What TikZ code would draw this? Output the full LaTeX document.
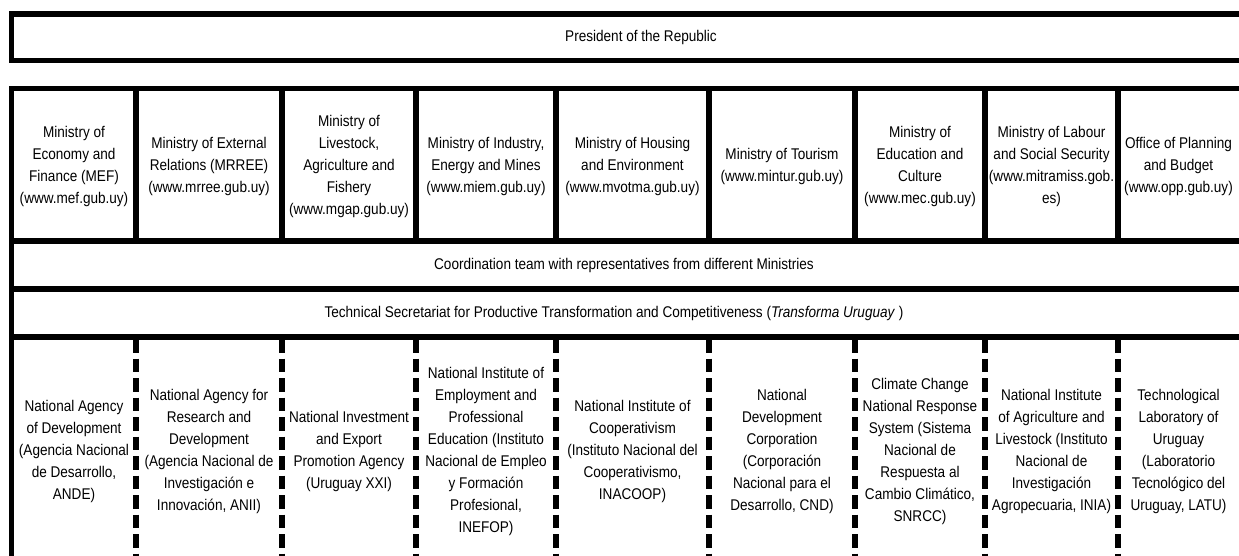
\documentclass[tikz,border=0pt]{standalone}
\usepackage{fontspec}
\setmainfont{Liberation Sans}[FakeStretch=0.875]
\begin{document}
\begin{tikzpicture}[x=1pt,y=-1pt,
  rule/.style={line width=5.2pt},
  dashrule/.style={line width=5.2pt, dash pattern=on 13.5pt off 6pt},
  lbl/.style={align=center, font=\fontsize{15.5}{22}\selectfont, inner sep=0pt},
]
\useasboundingbox (0,0) rectangle (1239,556);
\clip (0,0) rectangle (1239,556);

% president box, open to the right
\draw[rule] (1260,14) -- (11.5,14) -- (11.5,60.5) -- (1260,60.5);
\node[lbl] (president) at (641,37) {President of the Republic};

% main table frame and row rules
\draw[rule] (1260,88.5) -- (11.5,88.5) -- (11.5,570);
\foreach \y in {241,289,337} \draw[rule] (11.5,\y) -- (1260,\y);

% column separators: solid for ministries, dashed for agencies
\foreach \x in {136,282,416,556,709,855,985,1118} {
  \draw[rule] (\x,88.5) -- (\x,241);
  \draw[dashrule] (\x,339) -- (\x,570);
}

% ministries
\node[lbl] (m1) at (74,166) {Ministry of\\Economy and\\Finance (MEF)\\(www.mef.gub.uy)};
\node[lbl] (m2) at (209,166) {Ministry of External\\Relations (MRREE)\\(www.mrree.gub.uy)};
\node[lbl] (m3) at (349,166) {Ministry of\\Livestock,\\Agriculture and\\Fishery\\(www.mgap.gub.uy)};
\node[lbl] (m4) at (486,166) {Ministry of Industry,\\Energy and Mines\\(www.miem.gub.uy)};
\node[lbl] (m5) at (632.5,166) {Ministry of Housing\\and Environment\\(www.mvotma.gub.uy)};
\node[lbl] (m6) at (782,166) {Ministry of Tourism\\(www.mintur.gub.uy)};
\node[lbl] (m7) at (920,166) {Ministry of\\Education and\\Culture\\(www.mec.gub.uy)};
\node[lbl] (m8) at (1051.5,166) {Ministry of Labour\\and Social Security\\(www.mitramiss.gob.\\es)};
\node[lbl] (m9) at (1178.5,166) {Office of Planning\\and Budget\\(www.opp.gub.uy)};

% coordination rows
\node[lbl] (coord) at (624,265) {Coordination team with representatives from different Ministries};
\node[lbl] (tech) at (614,313) {Technical Secretariat for Productive Transformation and Competitiveness (\textit{Transforma Uruguay} )};

% agencies
\node[lbl] (a1) at (74,451) {National Agency\\of Development\\(Agencia Nacional\\de Desarrollo,\\ANDE)};
\node[lbl] (a2) at (209,451) {National Agency for\\Research and\\Development\\(Agencia Nacional de\\Investigación e\\Innovación, ANII)};
\node[lbl] (a3) at (349,451) {National Investment\\and Export\\Promotion Agency\\(Uruguay XXI)};
\node[lbl] (a4) at (486,451) {National Institute of\\Employment and\\Professional\\Education (Instituto\\Nacional de Empleo\\y Formación\\Profesional,\\INEFOP)};
\node[lbl] (a5) at (632.5,451) {National Institute of\\Cooperativism\\(Instituto Nacional del\\Cooperativismo,\\INACOOP)};
\node[lbl] (a6) at (782,451) {National\\Development\\Corporation\\(Corporación\\Nacional para el\\Desarrollo, CND)};
\node[lbl] (a7) at (920,451) {Climate Change\\National Response\\System (Sistema\\Nacional de\\Respuesta al\\Cambio Climático,\\SNRCC)};
\node[lbl] (a8) at (1051.5,451) {National Institute\\of Agriculture and\\Livestock (Instituto\\Nacional de\\Investigación\\Agropecuaria, INIA)};
\node[lbl] (a9) at (1178.5,451) {Technological\\Laboratory of\\Uruguay\\(Laboratorio\\Tecnológico del\\Uruguay, LATU)};
\end{tikzpicture}
\end{document}
